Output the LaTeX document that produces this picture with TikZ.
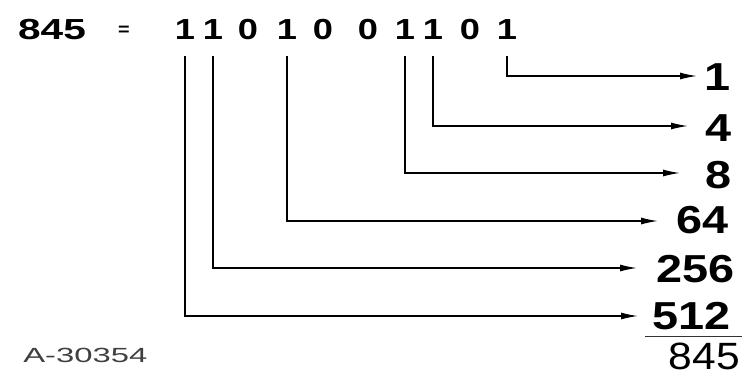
\documentclass[tikz,border=0pt]{standalone}
\usepackage{fontspec}
\setmainfont{Liberation Sans}
\usetikzlibrary{arrows.meta}
\tikzset{
  topdig/.style={font=\fontsize{29}{29}\selectfont\bfseries, inner sep=0pt, xscale=1.25, transform shape},
  toptxt/.style={font=\fontsize{29}{29}\selectfont\bfseries, inner sep=0pt, xscale=1.4, transform shape},
  eqtxt/.style={font=\fontsize{18}{18}\selectfont\bfseries, inner sep=0pt, xscale=1.1, transform shape},
  val/.style={font=\fontsize{39}{39}\selectfont\bfseries, inner sep=0pt, anchor=east, xscale=1.2, transform shape},
  sumval/.style={font=\fontsize{38}{38}\selectfont, inner sep=0pt, anchor=east, xscale=1.12, transform shape},
  conn/.style={line width=1.3pt, -{Latex[length=17pt,width=7pt]}},
  rule/.style={line width=1pt, black!80},
  refno/.style={font=\fontsize{20.5}{20.5}\selectfont, inner sep=0pt, text=black!75, xscale=1.6, transform shape, anchor=west}
}
\begin{document}
\begin{tikzpicture}[x=1pt,y=-1pt]
\useasboundingbox[fill=white] (0,0) rectangle (744,376);
% top line
\node[toptxt] (n) at (52,30) {845};
\node[eqtxt] (eq) at (124,31) {=};
\node[topdig] (b1) at (185,30) {1};
\node[topdig] (b2) at (213,30) {1};
\node[topdig] (b3) at (248,30) {0};
\node[topdig] (b4) at (287,30) {1};
\node[topdig] (b5) at (323,30) {0};
\node[topdig] (b6) at (368,30) {0};
\node[topdig] (b7) at (405,30) {1};
\node[topdig] (b8) at (433,30) {1};
\node[topdig] (b9) at (470,30) {0};
\node[topdig] (b10) at (507,30) {1};
% values
\node[val] (l1) at (731,77) {1};
\node[val] (l4) at (732,128) {4};
\node[val] (l8) at (732,175) {8};
\node[val] (l64) at (729,220) {64};
\node[val] (l256) at (735,269) {256};
\node[val] (l512) at (731,316) {512};
\node[sumval] (l845) at (740,356) {845};
% arrow tips
\coordinate (t1) at (697,76);
\coordinate (t4) at (688,126);
\coordinate (t8) at (680,173);
\coordinate (t64) at (658,221);
\coordinate (t256) at (637,268);
\coordinate (t512) at (638,316);
% connectors
\draw[conn] (b10.south) ++(0,16) |- (t1);
\draw[conn] (b8.south) ++(0,16) |- (t4);
\draw[conn] (b7.south) ++(0,16) |- (t8);
\draw[conn] (b4.south) ++(0,16) |- (t64);
\draw[conn] (b2.south) ++(0,16) |- (t256);
\draw[conn] (b1.south) ++(0,16) |- (t512);
% sum rule
\coordinate (r1) at (645,336);
\coordinate (r2) at (742,336);
\draw[rule] (r1) -- (r2);
% reference number
\node[refno] (ref) at (23,355) {A-30354};
\end{tikzpicture}
\end{document}
